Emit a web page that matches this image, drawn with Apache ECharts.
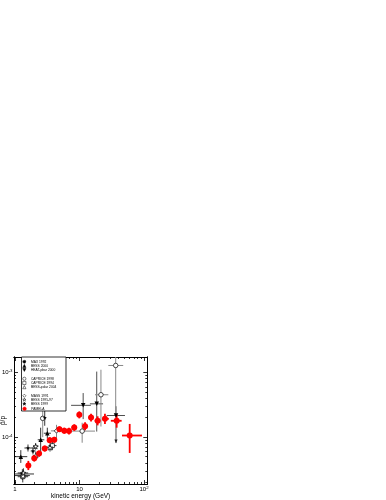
<!DOCTYPE html>
<html><head><meta charset="utf-8">
<script src="https://cdn.jsdelivr.net/npm/echarts@6/dist/echarts.min.js"></script>
<style>html,body{margin:0;padding:0;background:#fff}#c{width:386px;height:500px}</style>
</head><body><div id="c"></div>
<script>
// ---------- axis ranges and ticks ----------
const xMin = 0.965, xMax = 112.5;
const yMin = 1.89e-5, yMax = 1.73e-3;
const xMajorTicks = [1, 10, 100];
const xTickLabels = ['1', '10', '10^2'];
const xMinorTicks = [2,3,4,5,6,7,8,9,20,30,40,50,60,70,80,90];
const yMajorTicks = [1e-4, 1e-3];
const yTickLabels = ['10^-4', '10^-3'];
const yMinorTicks = [2e-5,3e-5,4e-5,5e-5,6e-5,7e-5,8e-5,9e-5,2e-4,3e-4,4e-4,5e-4,6e-4,7e-4,8e-4,9e-4];

// ---------- data: E (GeV), ratio, E low/high, ratio low/high ----------
const pamelaE   = [1.61, 1.99, 2.36, 2.89, 3.45, 4.07, 4.89, 5.81, 6.87, 8.3, 9.93, 12.2, 15.1, 19.1, 24.8, 37.7, 60];
const pamelaR   = [3.66e-5, 4.73e-5, 5.57e-5, 6.66e-5, 8.99e-5, 9.1e-5, 1.33e-4, 1.26e-4, 1.25e-4, 1.41e-4, 2.21e-4, 1.48e-4, 2.01e-4, 1.79e-4, 1.92e-4, 1.79e-4, 1.06e-4];
const pamelaElo = [1.5, 1.85, 2.2, 2.7, 3.2, 3.8, 4.5, 5.4, 6.4, 7.5, 9.2, 11.0, 13.8, 17.2, 22.6, 30.6, 45.6];
const pamelaEhi = [1.75, 2.15, 2.55, 3.1, 3.7, 4.4, 5.3, 6.3, 7.4, 9.0, 10.8, 13.5, 16.5, 21.0, 28.5, 45, 93];
const pamelaRlo = [3.1e-5, 4.2e-5, 5.0e-5, 6.0e-5, 8.1e-5, 8.2e-5, 1.2e-4, 1.13e-4, 1.1e-4, 1.25e-4, 1.95e-4, 1.28e-4, 1.75e-4, 1.52e-4, 1.6e-4, 1.4e-4, 5.7e-5];
const pamelaRhi = [4.3e-5, 5.3e-5, 6.2e-5, 7.4e-5, 1.0e-4, 1.01e-4, 1.47e-4, 1.4e-4, 1.4e-4, 1.58e-4, 2.5e-4, 1.7e-4, 2.3e-4, 2.1e-4, 2.3e-4, 2.25e-4, 1.6e-4];

const max92E = [1.30], max92R = [2.7e-5], max92Elo = [0.97], max92Ehi = [1.97], max92Rlo = [2.2e-5], max92Rhi = [3.2e-5];
const bess00E = [1.23, 2.5, 3.17], bess00R = [5.0e-5, 9.1e-5, 1.15e-4];
const bess00Elo = [0.97, 2.25, 2.8], bess00Ehi = [1.55, 2.85, 3.6];
const bess00Rlo = [4.0e-5, 6.0e-5, 9.5e-5], bess00Rhi = [6.3e-5, 1.4e-4, 1.4e-4];
const heatE = [11.4, 18.5, 36.8], heatR = [3.1e-4, 3.27e-4, 2.16e-4];
const heatElo = [7.4, 14.5, 26.4], heatEhi = [15, 23.2, 50.7];
const heatRlo = [1.9e-4, 1.22e-4, 8.1e-5], heatRhi = [4.8e-4, 1.03e-3, 3.0e-4];
const heatArrow = [0, 0, 1];
const cap98E = [2.69, 11.0, 21.5, 36.4], cap98R = [1.95e-4, 1.24e-4, 4.52e-4, 1.28e-3];
const cap98Elo = [2.55, 7.4, 17.4, 28], cap98Ehi = [2.85, 17.4, 28, 47.6];
const cap98Rlo = [1.0e-4, 8.2e-5, 1.46e-4, 2.2e-4], cap98Rhi = [2.9e-4, 1.67e-4, 1.1e-3, 2.5e-3];
const cap94E = [1.32, 3.8], cap94R = [2.45e-5, 7.4e-5];
const cap94Elo = [1.1, 3.3], cap94Ehi = [1.6, 4.4], cap94Rlo = [2.0e-5, 6.3e-5], cap94Rhi = [2.9e-5, 8.6e-5];
const bpolE = [1.33, 2.1], bpolR = [2.55e-5, 5.2e-5];
const bpolElo = [1.0, 1.9], bpolEhi = [1.7, 2.3], bpolRlo = [2.25e-5, 4.6e-5], bpolRhi = [2.85e-5, 5.9e-5];
const mass91E = [4.4], mass91R = [1.25e-4], mass91Elo = [3.6], mass91Ehi = [5.4], mass91Rlo = [9.5e-5], mass91Rhi = [1.55e-4];
const bess9597E = [1.35, 2.09, 3.49], bess9597R = [2.8e-5, 7.2e-5, 6.9e-5];
const bess9597Elo = [1.1, 1.9, 3.1], bess9597Ehi = [1.6, 2.3, 3.95];
const bess9597Rlo = [2.4e-5, 6.4e-5, 6.0e-5], bess9597Rhi = [3.3e-5, 8.1e-5, 8.0e-5];
const bess99E = [1.59, 1.9, 2.89], bess99R = [6.8e-5, 6.1e-5, 2.0e-4];
const bess99Elo = [1.4, 1.75, 2.75], bess99Ehi = [1.97, 2.1, 3.05];
const bess99Rlo = [6.0e-5, 5.4e-5, 1.5e-4], bess99Rhi = [7.7e-5, 6.9e-5, 2.6e-4];

const legendNames = ['MAX 1992', 'BESS 2000', 'HEAT-pbar 2000', 'CAPRICE 1998', 'CAPRICE 1994',
  'BESS-polar 2004', 'MASS 1991', 'BESS 1995-97', 'BESS 1999', 'PAMELA'];

// ---------- helpers ----------
const FONT = 'Liberation Sans, Arial, Helvetica, sans-serif';
function fmtPow(s) {
  const p = s.split('^');
  return p.length > 1 ? '{b|' + p[0] + '}{s|' + p[1] + '}' : '{b|' + p[0] + '}';
}
function labelFor(ticks, labels) {
  return function (v) {
    const i = ticks.findIndex(t => Math.abs(t - v) / t < 1e-6);
    return i >= 0 ? fmtPow(labels[i]) : '';
  };
}
const richPow = {
  b: { fontSize: 6, fontFamily: FONT, color: '#000', lineHeight: 7 },
  s: { fontSize: 4.3, fontFamily: FONT, color: '#000', lineHeight: 4.5, verticalAlign: 'top' }
};

function errSeries(name, E, R, Elo, Ehi, Rlo, Rhi, color, width, arrows) {
  return {
    type: 'custom', name: name + ' err', xAxisIndex: 0, yAxisIndex: 0, z: 2, silent: true, clip: true,
    data: E.map((e, i) => [e, R[i], Elo[i], Ehi[i], Rlo[i], Rhi[i], arrows ? arrows[i] : 0]),
    encode: { x: [0, 2, 3], y: [1, 4, 5] },
    renderItem: function (params, api) {
      const c = api.coord([api.value(0), api.value(1)]);
      const l = api.coord([api.value(2), api.value(1)]);
      const r = api.coord([api.value(3), api.value(1)]);
      const lo = api.coord([api.value(0), api.value(4)]);
      const hi = api.coord([api.value(0), api.value(5)]);
      const st = { stroke: color, lineWidth: width };
      const ch = [
        { type: 'line', shape: { x1: l[0], y1: c[1], x2: r[0], y2: c[1] }, style: st },
        { type: 'line', shape: { x1: c[0], y1: lo[1], x2: c[0], y2: hi[1] }, style: st }
      ];
      if (api.value(6)) {
        ch.push({ type: 'polygon', shape: { points: [[c[0] - 1.6, lo[1] - 3.5], [c[0] + 1.6, lo[1] - 3.5], [c[0], lo[1]]] }, style: { fill: color } });
      }
      return { type: 'group', children: ch };
    }
  };
}
function markSeries(name, E, R, symbol, size, fill, border) {
  return {
    type: 'scatter', name: name, xAxisIndex: 0, yAxisIndex: 0, z: 3,
    symbol: symbol, symbolSize: size,
    data: E.map((e, i) => [e, R[i]]),
    itemStyle: { color: fill, borderColor: border, borderWidth: fill === '#fff' ? 0.7 : 0, opacity: 1 },
    emphasis: { disabled: true }
  };
}

const SYM_AST = 'path://M4.3,0H5.7V10H4.3Z M0,4.3H10V5.7H0Z M1,2L2,1L9,8L8,9Z M8,1L9,2L2,9L1,8Z';
const SYM_DOWN = 'path://M0,0L10,0L5,9Z';
const SYM_STAR = 'path://M5,0L6.2,3.6L10,3.6L6.9,5.9L8.1,9.5L5,7.3L1.9,9.5L3.1,5.9L0,3.6L3.8,3.6Z';

const series = [
  errSeries('MAX 1992', max92E, max92R, max92Elo, max92Ehi, max92Rlo, max92Rhi, '#000', 0.8),
  errSeries('BESS 2000', bess00E, bess00R, bess00Elo, bess00Ehi, bess00Rlo, bess00Rhi, '#000', 0.8),
  errSeries('HEAT-pbar 2000', heatE, heatR, heatElo, heatEhi, heatRlo, heatRhi, '#222', 0.8, heatArrow),
  errSeries('CAPRICE 1998', cap98E, cap98R, cap98Elo, cap98Ehi, cap98Rlo, cap98Rhi, '#888', 1),
  errSeries('CAPRICE 1994', cap94E, cap94R, cap94Elo, cap94Ehi, cap94Rlo, cap94Rhi, '#000', 0.8),
  errSeries('BESS-polar 2004', bpolE, bpolR, bpolElo, bpolEhi, bpolRlo, bpolRhi, '#000', 0.8),
  errSeries('MASS 1991', mass91E, mass91R, mass91Elo, mass91Ehi, mass91Rlo, mass91Rhi, '#666', 0.8),
  errSeries('BESS 1995-97', bess9597E, bess9597R, bess9597Elo, bess9597Ehi, bess9597Rlo, bess9597Rhi, '#000', 0.8),
  errSeries('BESS 1999', bess99E, bess99R, bess99Elo, bess99Ehi, bess99Rlo, bess99Rhi, '#000', 0.8),
  errSeries('PAMELA', pamelaE, pamelaR, pamelaElo, pamelaEhi, pamelaRlo, pamelaRhi, '#ff0000', 1.8),
  markSeries('MAX 1992', max92E, max92R, SYM_AST, 5, '#000', '#000'),
  markSeries('BESS 2000', bess00E, bess00R, 'triangle', 4.5, '#000', '#000'),
  markSeries('HEAT-pbar 2000', heatE, heatR, SYM_DOWN, 4.5, '#000', '#000'),
  markSeries('CAPRICE 1998', cap98E, cap98R, 'circle', 4.5, '#fff', '#000'),
  markSeries('CAPRICE 1994', cap94E, cap94R, 'rect', 4, '#fff', '#000'),
  markSeries('BESS-polar 2004', bpolE, bpolR, 'triangle', 4.5, '#fff', '#000'),
  markSeries('MASS 1991', mass91E, mass91R, 'diamond', 4.5, '#fff', '#000'),
  markSeries('BESS 1995-97', bess9597E, bess9597R, SYM_STAR, 5, '#fff', '#000'),
  markSeries('BESS 1999', bess99E, bess99R, SYM_STAR, 4, '#000', '#000'),
  markSeries('PAMELA', pamelaE, pamelaR, 'circle', 6, '#ff0000', '#ff0000')
];

function xAx(pos, ticks, len, labels) {
  return {
    type: 'log', logBase: 10, min: xMin, max: xMax, position: pos, gridIndex: 0,
    axisLine: { show: true, onZero: false, lineStyle: { color: '#000', width: 1 } },
    axisTick: { show: true, inside: true, length: len, customValues: ticks, lineStyle: { color: '#000', width: 0.8 } },
    minorTick: { show: false },
    splitLine: { show: false },
    axisLabel: labels ? { show: true, customValues: xMajorTicks, formatter: labelFor(xMajorTicks, xTickLabels), margin: 2, rich: richPow, fontFamily: FONT } : { show: false },
    name: labels ? 'kinetic energy (GeV)' : '', nameLocation: 'middle', nameGap: 9, nameMoveOverlap: false,
    nameTextStyle: { fontSize: 6.5, color: '#000', fontFamily: FONT }
  };
}
function yAx(pos, ticks, len, labels) {
  return {
    type: 'log', logBase: 10, min: yMin, max: yMax, position: pos, gridIndex: 0,
    axisLine: { show: true, onZero: false, lineStyle: { color: '#000', width: 1 } },
    axisTick: { show: true, inside: true, length: len, customValues: ticks, lineStyle: { color: '#000', width: 0.8 } },
    minorTick: { show: false },
    splitLine: { show: false },
    axisLabel: labels ? { show: true, customValues: yMajorTicks, formatter: labelFor(yMajorTicks, yTickLabels), margin: 1.5, rich: richPow, fontFamily: FONT } : { show: false },
    name: labels ? 'p\u0304/p' : '', nameLocation: 'middle', nameGap: 7, nameRotate: 90, nameMoveOverlap: false,
    nameTextStyle: { fontSize: 6.5, color: '#000', fontFamily: FONT }
  };
}

const legendRowY = [361.5, 365.7, 369.9, 378.5, 382.7, 386.9, 395.5, 399.5, 403.5, 408.3];
const legends = legendNames.map((n, k) => ({
  data: [n], orient: 'vertical', left: 22.5, top: legendRowY[k] - 1.6, padding: 0,
  itemWidth: n === 'PAMELA' ? 3.6 : 3.2, itemHeight: n === 'PAMELA' ? 3.6 : 3.2, itemGap: 0, selectedMode: false,
  itemStyle: { borderWidth: 0.5 },
  textStyle: { fontSize: 3.3, lineHeight: 3.2, color: '#000', fontFamily: FONT }
}));

const chart = echarts.init(document.getElementById('c'), null, { renderer: 'canvas' });
chart.setOption({
  animation: false,
  backgroundColor: '#fff',
  grid: { left: 14, top: 357, width: 133.3, height: 127, containLabel: false, outerBoundsMode: 'none' },
  xAxis: [
    xAx('bottom', xMajorTicks, 4, true),
    xAx('bottom', xMinorTicks, 2, false),
    xAx('top', xMajorTicks, 4, false),
    xAx('top', xMinorTicks, 2, false)
  ],
  yAxis: [
    yAx('left', yMajorTicks, 4, true),
    yAx('left', yMinorTicks, 2, false),
    yAx('right', yMajorTicks, 4, false),
    yAx('right', yMinorTicks, 2, false)
  ],
  legend: legends,
  graphic: [{
    type: 'rect', z: 3, silent: true,
    shape: { x: 21.5, y: 357, width: 44.5, height: 54 },
    style: { fill: '#fff', stroke: '#000', lineWidth: 0.8 }
  }],
  series: series
});
</script></body></html>
